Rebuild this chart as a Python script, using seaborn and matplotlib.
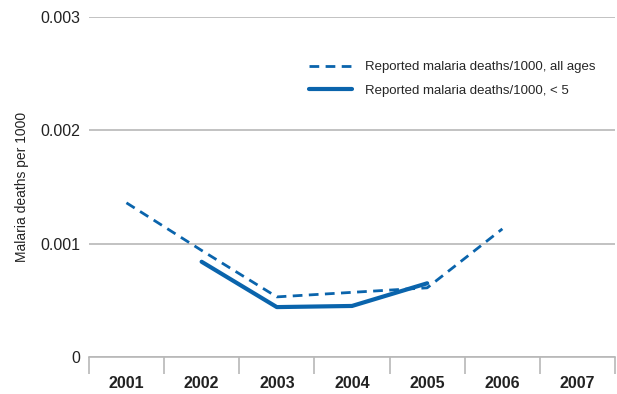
import numpy as np
import pandas as pd
import matplotlib
matplotlib.use("Agg")
import matplotlib.pyplot as plt
import seaborn as sns
from matplotlib.ticker import FixedLocator

years = ["2001", "2002", "2003", "2004", "2005", "2006", "2007"]
all_ages = [0.00136, 0.00094, 0.00053, 0.00057, 0.00061, 0.00113, np.nan]
under_five = [np.nan, 0.00084, 0.00044, 0.00045, 0.00065, np.nan, np.nan]
label_all = "Reported malaria deaths/1000, all ages"
label_u5 = "Reported malaria deaths/1000, < 5"
yticks = [0, 0.001, 0.002, 0.003]
ytick_labels = ["0", "0.001", "0.002", "0.003"]

blue = "#0a64ac"
grey = "#b8b8b8"
txt = "#222222"

sns.set_theme(style="white")
plt.rcParams["font.family"] = ["Liberation Sans", "DejaVu Sans"]

df = pd.DataFrame({"year": years, "all": all_ages, "u5": under_five})
df["pos"] = np.arange(len(years))

fig = plt.figure(figsize=(6.17, 3.94), dpi=100)
ax = fig.add_axes([0.144, 0.094, 0.853, 0.863])

d1 = df.dropna(subset=["all"])
d2 = df.dropna(subset=["u5"])
sns.lineplot(x=d1["pos"], y=d1["all"], ax=ax, color=blue, lw=2.0,
             linestyle=(0, (3.5, 2.3)), label=label_all)
sns.lineplot(x=d2["pos"], y=d2["u5"], ax=ax, color=blue, lw=3.0,
             label=label_u5)

ax.set_xlim(-0.5, len(years) - 0.5)
ax.set_ylim(0, 0.003)
ax.set_yticks(yticks)
ax.set_yticklabels(ytick_labels, fontsize=11.5, color=txt)
ax.yaxis.grid(True, color=grey, lw=1.2)
ax.set_axisbelow(True)
ax.tick_params(axis="y", length=0, pad=6)

ax.set_xticks(df["pos"])
ax.set_xticklabels(years, fontsize=11.5, fontweight="bold", color=txt)
ax.xaxis.set_minor_locator(FixedLocator(np.arange(-0.5, len(years), 1.0)))
ax.tick_params(axis="x", which="major", length=0, pad=14)
ax.tick_params(axis="x", which="minor", length=12, width=1.2, color=grey,
               bottom=True)

for s in ["top", "right", "left"]:
    ax.spines[s].set_visible(False)
ax.spines["bottom"].set_color(grey)
ax.spines["bottom"].set_linewidth(1.2)

ax.set_xlabel("")
ax.set_ylabel("Malaria deaths per 1000", fontsize=10, color=txt, labelpad=8)

leg = ax.legend(loc="upper right", bbox_to_anchor=(0.985, 0.905), frameon=False,
                fontsize=9.5, handlelength=3.2, handletextpad=1.0,
                labelspacing=0.85)

fig.savefig("out.png", dpi=100)
